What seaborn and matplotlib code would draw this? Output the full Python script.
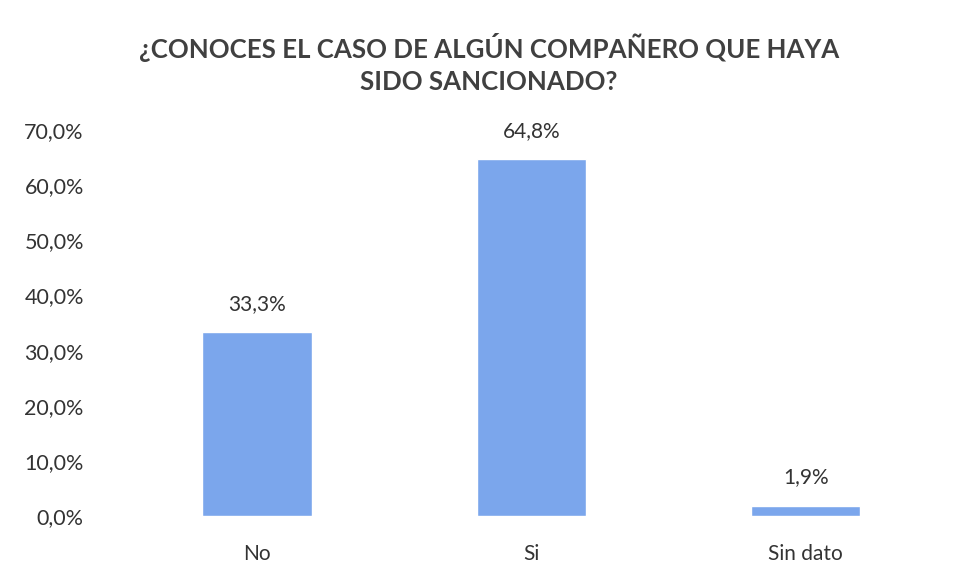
import matplotlib
matplotlib.use("Agg")
import matplotlib.pyplot as plt
import seaborn as sns
import pandas as pd
from matplotlib.ticker import FuncFormatter

categorias = ["No", "Si", "Sin dato"]
porcentajes = [33.3, 64.8, 1.9]
titulo = "¿CONOCES EL CASO DE ALGÚN COMPAÑERO QUE HAYA\nSIDO SANCIONADO?"

df = pd.DataFrame({"respuesta": categorias, "pct": porcentajes})

sns.set_theme(style="white")
plt.rcParams["font.family"] = ["Lato", "DejaVu Sans"]

fig = plt.figure(figsize=(9.62, 5.8), dpi=100)
ax = fig.add_axes([0.1247, 0.1103, 0.8553, 0.6655])

sns.barplot(data=df, x="respuesta", y="pct", color="#7ba6ec", width=0.4,
            saturation=1, ax=ax)

ax.set_ylim(0, 70)
ax.set_yticks(range(0, 71, 10))
ax.yaxis.set_major_formatter(FuncFormatter(lambda v, p: f"{v:.1f}%".replace(".", ",")))
ax.tick_params(axis="y", labelsize=15.5, pad=26, colors="#333333", length=0)
ax.tick_params(axis="x", labelsize=15, pad=20, colors="#333333", length=0)
ax.set_xlabel("")
ax.set_ylabel("")
sns.despine(ax=ax, left=True, bottom=True)

for cont in ax.containers:
    ax.bar_label(cont, labels=[f"{v:.1f}%".replace(".", ",") for v in porcentajes],
                 padding=13, fontsize=15, color="#333333")

fig.text(0.508, 0.891, titulo, ha="center", va="center", fontsize=18.6,
         fontweight="bold", color="#404040", linespacing=1.4)

fig.savefig("out.png", dpi=100, facecolor="white")
